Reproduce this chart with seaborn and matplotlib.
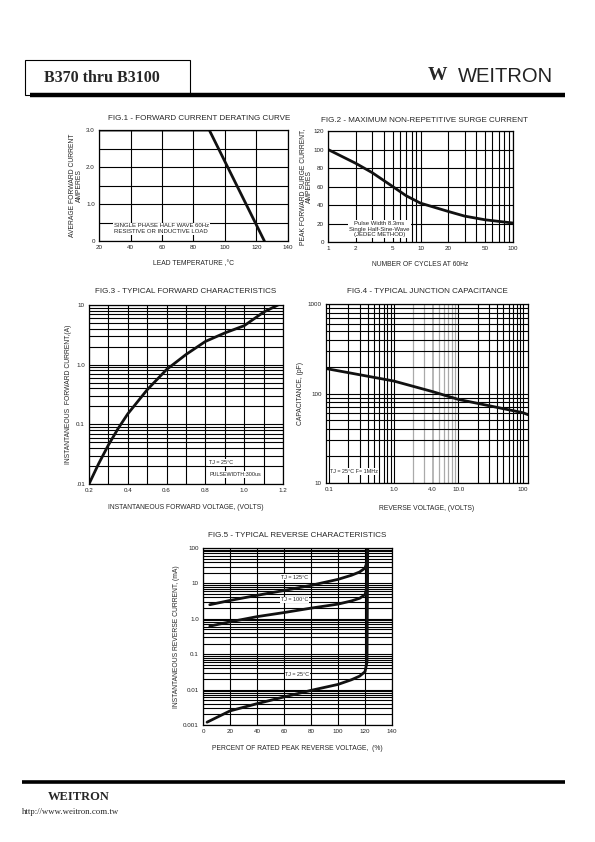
import numpy as np
import pandas as pd
import matplotlib
matplotlib.use("Agg")
import matplotlib.pyplot as plt
from matplotlib.patches import Rectangle
import seaborn as sns

sns.set_style("white")
plt.rcParams['font.family'] = ['Liberation Sans', 'DejaVu Sans']

# ---- data ----
fig1_temp = [20, 90, 125]
fig1_current = [3.0, 3.0, 0.0]

fig2_cycles = [1, 2, 3, 5, 7, 10, 20, 30, 50, 100]
fig2_surge = [100, 85, 75, 60, 50, 42, 33, 28, 24, 20.5]

fig3_volt = [0.2, 0.25, 0.3, 0.35, 0.4, 0.5, 0.6, 0.7, 0.8, 0.9, 1.0, 1.1, 1.2]
fig3_amp = [0.01, 0.022, 0.045, 0.085, 0.15, 0.38, 0.83, 1.48, 2.45, 3.4, 4.5, 7.6, 11]

fig4_volt = [0.09, 1, 4, 10, 100, 120]
fig4_cap = [190, 138, 105, 86, 61, 58]

fig5_pct = [5, 20, 40, 60, 80, 100, 110, 116, 120, 121.5, 122]
fig5_125 = [2.5, 3.3, 4.6, 6.3, 8.8, 13, 17, 21, 27, 40, 100]
fig5_100 = [0.62, 0.82, 1.15, 1.5, 2.0, 2.6, 3.2, 3.8, 4.8, 8, 100]
fig5_pct25 = [3, 20, 40, 60, 80, 100, 110, 116, 120, 121.5, 122]
fig5_25 = [0.0012, 0.0025, 0.004, 0.0062, 0.0095, 0.014, 0.019, 0.024, 0.032, 0.06, 100]

W, H = 595, 842
fig = plt.figure(figsize=(W / 100, H / 100), dpi=100)

def box(l, r, t, b):
    return [l / W, 1 - b / H, (r - l) / W, (b - t) / H]

FS_T = 5.8   # titles
FS_L = 4.9   # axis labels
FS_K = 4.5   # tick labels

def style(ax):
    for s in ax.spines.values():
        s.set_visible(True)
        s.set_color('k')
        s.set_linewidth(0.9)
    ax.tick_params(which='both', length=0, labelsize=FS_K, pad=3, colors='#222222')

def curve(ax, x, y):
    sns.lineplot(x=x, y=y, ax=ax, color='#111111', lw=2.0, estimator=None, sort=False)

white = dict(facecolor='white', edgecolor='none', pad=0.6)

# ---- FIG.1 ----
ax1 = fig.add_axes(box(99, 288, 130, 241))
style(ax1)
ax1.set_xlim(20, 140)
ax1.set_ylim(0, 3.0)
ax1.set_xticks(range(20, 141, 20))
ax1.set_yticks(np.arange(0, 3.01, 0.5))
ax1.set_yticklabels(['0', '', '1.0', '', '2.0', '', '3.0'])
ax1.grid(True, color='k', lw=0.8)
curve(ax1, fig1_temp, fig1_current)
ax1.text(29.5, 0.33, "SINGLE PHASE HALF WAVE 60Hz\nRESISTIVE OR INDUCTIVE LOAD",
         fontsize=4.3, va='center', ha='left', bbox=white, linespacing=1.2, color='#222222')
ax1.set_title("FIG.1 - FORWARD CURRENT DERATING CURVE", fontsize=FS_T, pad=7.5, x=0.53)
ax1.set_xlabel("LEAD TEMPERATURE ,\u00b0C", fontsize=FS_L, labelpad=7)
ax1.set_ylabel("AVERAGE FORWARD CURRENT\nAMPERES", fontsize=FS_L, labelpad=2.5, linespacing=1.0)

# ---- FIG.2 ----
ax2 = fig.add_axes(box(328, 513, 131, 242))
style(ax2)
ax2.set_xscale('log')
ax2.set_xlim(1, 100)
ax2.set_ylim(0, 120)
ax2.set_xticks([1, 2, 5, 10, 20, 50, 100])
ax2.set_xticklabels(['1', '2', '5', '10', '20', '50', '100'])
ax2.set_xticks([3, 4, 6, 7, 8, 9, 30, 40, 60, 70, 80, 90], minor=True)
ax2.xaxis.set_minor_formatter(matplotlib.ticker.NullFormatter())
ax2.set_yticks(range(0, 121, 20))
ax2.grid(True, which='both', color='k', lw=0.8)
curve(ax2, fig2_cycles, fig2_surge)
ax2.text(3.6, 14, "Pulse Width 8.3ms\nSingle Half-Sine-Wave\n(JEDEC METHOD)",
         fontsize=4.3, va='center', ha='center', bbox=white, linespacing=1.15, color='#222222')
ax2.set_title("FIG.2 - MAXIMUM NON-REPETITIVE SURGE CURRENT", fontsize=FS_T, pad=6.5, x=0.52)
ax2.set_xlabel("NUMBER OF CYCLES AT 60Hz", fontsize=FS_L, labelpad=7)
ax2.set_ylabel("PEAK FORWARD SURGE CURRENT,\nAMPERES", fontsize=FS_L, labelpad=0, linespacing=1.0)

# ---- FIG.3 ----
ax3 = fig.add_axes(box(89, 283, 305, 484))
style(ax3)
ax3.set_yscale('log')
ax3.set_xlim(0.2, 1.2)
ax3.set_ylim(0.01, 10)
ax3.set_xticks(np.arange(0.2, 1.21, 0.2))
ax3.set_xticklabels(['0.2', '0.4', '0.6', '0.8', '1.0', '1.2'])
ax3.set_xticks(np.arange(0.3, 1.2, 0.2), minor=True)
ax3.set_yticks([0.01, 0.1, 1, 10])
ax3.set_yticklabels(['.01', '0.1', '1.0', '10'])
ax3.yaxis.set_minor_locator(matplotlib.ticker.LogLocator(subs=np.arange(2, 10)))
ax3.yaxis.set_minor_formatter(matplotlib.ticker.NullFormatter())
ax3.grid(True, which='both', color='k', lw=0.8)
curve(ax3, fig3_volt, fig3_amp)
ax3.text(0.82, 0.023, "TJ = 25\u00b0C", fontsize=3.9, va='center', ha='left', bbox=white, color='#222222')
ax3.text(0.82, 0.0145, "PULSEWIDTH:300us", fontsize=3.9, va='center', ha='left', bbox=white, color='#222222')
ax3.set_title("FIG.3 - TYPICAL FORWARD CHARACTERISTICS", fontsize=FS_T, pad=8.5)
ax3.set_xlabel("INSTANTANEOUS FORWARD VOLTAGE, (VOLTS)", fontsize=FS_L, labelpad=8)
ax3.set_ylabel("INSTANTANEOUS  FORWARD CURRENT,(A)", fontsize=FS_L, labelpad=3)

# ---- FIG.4 ----
ax4 = fig.add_axes(box(326, 528, 304, 483))
style(ax4)
ax4.set_xscale('log')
ax4.set_yscale('log')
ax4.set_xlim(0.09, 120)
ax4.set_ylim(10, 1000)
ax4.set_xticks([0.1, 1, 4, 10, 100])
ax4.set_xticklabels(['0.1', '1.0', '4.0', '10.0', '100'])
ax4.xaxis.set_minor_locator(matplotlib.ticker.NullLocator())
ax4.set_yticks([10, 100, 1000])
ax4.set_yticklabels(['10', '100', '1000'])
ax4.yaxis.set_minor_locator(matplotlib.ticker.LogLocator(subs=np.arange(2, 10)))
ax4.yaxis.set_minor_formatter(matplotlib.ticker.NullFormatter())
ax4.grid(True, axis='y', which='both', color='k', lw=0.8)
for d in [0.1, 10]:
    for m in range(1, 11):
        ax4.axvline(d * m, color='k', lw=0.8, zorder=0.5)
for m in range(2, 10):
    ax4.axvline(m, color='#aaaaaa', lw=1.2 if m == 4 else 0.9, zorder=0.5)
curve(ax4, fig4_volt, fig4_cap)
ax4.text(0.105, 13.5, "TJ = 25\u00b0C F= 1MHz", fontsize=3.9, va='center', ha='left', bbox=white, color='#222222')
ax4.set_title("FIG.4 - TYPICAL JUNCTION CAPACITANCE", fontsize=FS_T, pad=8)
ax4.set_xlabel("REVERSE VOLTAGE, (VOLTS)", fontsize=FS_L, labelpad=9)
ax4.set_ylabel("CAPACITANCE, (pF)", fontsize=FS_L, labelpad=3)

# ---- FIG.5 ----
ax5 = fig.add_axes(box(203, 392, 548, 725))
style(ax5)
ax5.set_yscale('log')
ax5.set_xlim(0, 140)
ax5.set_ylim(0.001, 100)
ax5.set_xticks(range(0, 141, 20))
ax5.set_yticks([0.001, 0.01, 0.1, 1, 10, 100])
ax5.set_yticklabels(['0.001', '0.01', '0.1', '1.0', '10', '100'])
ax5.yaxis.set_minor_locator(matplotlib.ticker.LogLocator(subs=np.arange(2, 10)))
ax5.yaxis.set_minor_formatter(matplotlib.ticker.NullFormatter())
ax5.grid(True, which='both', color='k', lw=0.8)
curve(ax5, fig5_pct, fig5_125)
curve(ax5, fig5_pct, fig5_100)
curve(ax5, fig5_pct25, fig5_25)
ax5.text(68, 15, "TJ = 125\u00b0C", fontsize=3.9, va='center', ha='center', bbox=white, color='#222222')
ax5.text(68, 3.4, "TJ = 100\u00b0C", fontsize=3.9, va='center', ha='center', bbox=white, color='#222222')
ax5.text(70, 0.027, "TJ = 25\u00b0C", fontsize=3.9, va='center', ha='center', bbox=white, color='#222222')
ax5.set_title("FIG.5 - TYPICAL REVERSE CHARACTERISTICS", fontsize=FS_T, pad=8)
ax5.set_xlabel("PERCENT OF RATED PEAK REVERSE VOLTAGE,  (%)", fontsize=FS_L, labelpad=8)
ax5.set_ylabel("INSTANTANEOUS REVERSE CURRENT, (mA)", fontsize=FS_L, labelpad=2)

# ---- page header / footer ----
pg = fig.add_axes([0, 0, 1, 1])
pg.set_xlim(0, W)
pg.set_ylim(H, 0)
pg.axis('off')
pg.add_patch(Rectangle((25, 60), 165, 35, fill=False, lw=0.8, ec='k'))
pg.text(44, 78, "B370 thru B3100", fontsize=11.5, fontweight='bold',
        family='Liberation Serif', va='center', ha='left')
pg.plot([30, 565], [95, 95], color='k', lw=3.2, solid_capstyle='butt')
pg.text(437, 76, "W", fontsize=14, fontweight='bold', family='Liberation Serif',
        va='center', ha='center')
pg.text(458, 76, "WEITRON", fontsize=14.5, va='center', ha='left', color='#222222')
pg.plot([22, 565], [782, 782], color='k', lw=2.6, solid_capstyle='butt')
pg.text(48, 797, "WEITRON", fontsize=9, fontweight='bold', family='Liberation Serif',
        va='center', ha='left')
pg.text(22, 812, "http://www.weitron.com.tw", fontsize=6.3, family='Liberation Serif',
        va='center', ha='left')

fig.savefig("out.png", dpi=100)
